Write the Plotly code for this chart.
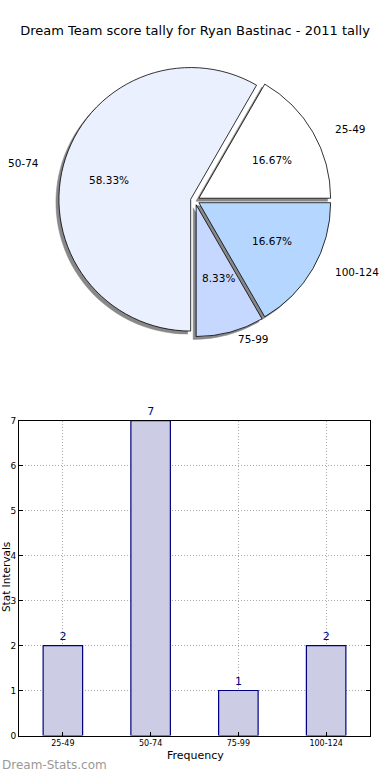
import math
import plotly.graph_objects as go

# ---- data ----
categories = ["25-49", "50-74", "75-99", "100-124"]
counts = [2, 7, 1, 2]
pie_colors = ["#ffffff", "#eaf0fe", "#c6d8ff", "#b4d6ff"]
title_text = "Dream Team score tally for Ryan Bastinac - 2011 tally"
y_ticks = [0, 1, 2, 3, 4, 5, 6, 7]

W, H = 390, 780
FONT = "DejaVu Sans"

def px_x(p):
    return p / W

def px_y(p):
    return 1 - p / H

explode = 0.034
cx, cy, half = 195, 198, 138
dom_x = [px_x(cx - half), px_x(cx + half)]
dom_y = [px_y(cy + half), px_y(cy - half)]
sh_dx, sh_dy = -3, 3
shadow_x = [px_x(cx - half + sh_dx), px_x(cx + half + sh_dx)]
shadow_y = [px_y(cy + half + sh_dy), px_y(cy - half + sh_dy)]

common = dict(labels=categories, values=counts, sort=False,
              direction="counterclockwise", rotation=30,
              pull=[explode] * len(counts), showlegend=False, textinfo="none")

fig = go.Figure()

# shadow pie
fig.add_trace(go.Pie(
    **common,
    marker=dict(colors=["#888888"] * len(counts), line=dict(color="#888888", width=0.5)),
    hoverinfo="skip",
    domain=dict(x=shadow_x, y=shadow_y),
))
# main pie
fig.add_trace(go.Pie(
    **common,
    marker=dict(colors=pie_colors, line=dict(color="#000000", width=0.8)),
    domain=dict(x=dom_x, y=dom_y),
))

# pie texts (matplotlib-style: labels at 1.1 r, percentages at 0.6 r)
sx, sy = 141, 128
total = sum(counts)
annotations = []
start = 0.0
for lab, v in zip(categories, counts):
    frac = v / total
    mid = math.radians((start + frac / 2) * 360)
    start += frac
    ox = explode * math.cos(mid)
    oy = explode * math.sin(mid)
    lx = cx + sx * (ox + 1.1 * math.cos(mid))
    ly = cy - sy * (oy + 1.1 * math.sin(mid))
    annotations.append(dict(
        text=lab, x=px_x(lx), y=px_y(ly), xref="paper", yref="paper",
        xanchor="left" if math.cos(mid) > 0 else "right", yanchor="middle",
        showarrow=False, font=dict(family=FONT, size=10.5, color="black")))
    tx = cx + sx * (ox + 0.6 * math.cos(mid))
    ty = cy - sy * (oy + 0.6 * math.sin(mid))
    annotations.append(dict(
        text=f"{frac * 100:.2f}%", x=px_x(tx), y=px_y(ty), xref="paper", yref="paper",
        xanchor="center", yanchor="middle",
        showarrow=False, font=dict(family=FONT, size=10.5, color="black")))

# bar chart
fig.add_trace(go.Bar(
    x=categories, y=counts, width=0.45,
    marker=dict(color="#ccccE4", line=dict(color="#000080", width=1.2)),
    text=counts, textposition="outside", cliponaxis=False,
    textfont=dict(family=FONT, size=11, color="#00008b"),
    showlegend=False, xaxis="x", yaxis="y", hoverinfo="x+y",
))

annotations += [
    dict(text="Frequency", x=px_x(195), y=px_y(760), xref="paper", yref="paper",
         xanchor="center", yanchor="middle",
         showarrow=False, font=dict(family=FONT, size=11, color="black")),
    dict(text="Stat Intervals", x=px_x(5.5), y=px_y(580), xref="paper", yref="paper",
         xanchor="center", yanchor="middle",
         showarrow=False, textangle=-90, font=dict(family=FONT, size=10.5, color="black")),
    dict(text="Dream-Stats.com", x=px_x(0), y=px_y(770), xref="paper", yref="paper",
         xanchor="left", yanchor="middle", showarrow=False,
         font=dict(family=FONT, size=12, color="#999999")),
]

grid = dict(showgrid=True, gridcolor="#a8a8a8", griddash="1px,2px", gridwidth=1)

fig.update_layout(
    width=W, height=H,
    margin=dict(l=0, r=0, t=0, b=0),
    paper_bgcolor="white", plot_bgcolor="white",
    font=dict(family=FONT, color="#000000"),
    title=dict(text=title_text, x=0.5, xanchor="center", y=px_y(30), yanchor="middle",
               font=dict(family=FONT, size=13, color="#000000")),
    xaxis=dict(domain=[px_x(19), px_x(370)], range=[-0.5, 3.5],
               showline=True, linecolor="black", linewidth=1, mirror=True,
               ticks="inside", ticklen=4, tickcolor="black",
               tickfont=dict(family=FONT, size=8, color="black"),
               layer="above traces", zeroline=False, anchor="y", **grid),
    yaxis=dict(domain=[px_y(740), px_y(421)], range=[0, 7], tickvals=y_ticks,
               showline=True, linecolor="black", linewidth=1, mirror="ticks",
               ticks="inside", ticklen=4, tickcolor="black",
               tickfont=dict(family=FONT, size=9, color="black"),
               layer="above traces", zeroline=False, anchor="x", **grid),
    annotations=annotations,
)

fig.write_html(
    "out.html",
    config={"displayModeBar": False},
    post_script=("document.body.style.margin='0';"
                 "document.body.style.overflow='hidden';"
                 "document.documentElement.style.overflow='hidden';"),
)
